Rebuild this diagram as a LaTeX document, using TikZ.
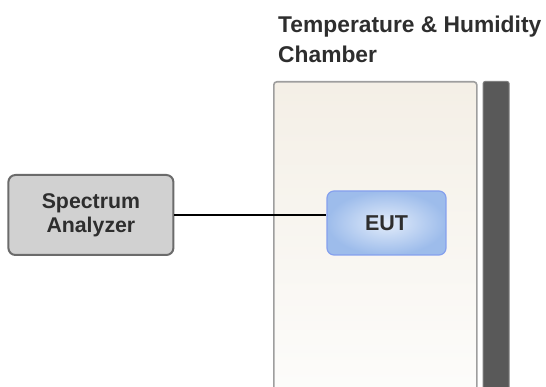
\documentclass[tikz,border=0pt]{standalone}
\usepackage{fontspec}
\setmainfont{Liberation Sans}
\usetikzlibrary{positioning}

\begin{document}
\begin{tikzpicture}[x=1pt, y=1pt]
    \newlength\hgap
    \newlength\wallgap
    \setlength\hgap{152pt}
    \setlength\wallgap{5pt}
    \colorlet{label-grey}{black!82}
    \definecolor{chamber-top}{HTML}{F4EFE6}
    \definecolor{chamber-bottom}{HTML}{FDFDFC}
    \definecolor{eut-inner}{HTML}{E2ECFA}
    \definecolor{eut-outer}{HTML}{9DBCEB}
    \tikzset{
        labeltext/.style={font=\bfseries\fontsize{21.5}{30}\selectfont,
            text=label-grey, align=center},
        chamberbox/.style={draw=black!38, line width=1.6pt, rounded corners=3pt,
            top color=chamber-top, bottom color=chamber-bottom,
            minimum width=203pt, minimum height=330pt, anchor=north west},
        wallbox/.style={draw=black!50, line width=1pt, fill=black!65,
            rounded corners=2pt, minimum width=26pt, minimum height=330pt},
        analyzerbox/.style={draw=black!58, line width=2pt, fill=black!18,
            rounded corners=7pt, minimum width=165pt, minimum height=80pt},
        eutbox/.style={draw=eut-outer!85!blue, line width=1.2pt,
            inner color=eut-inner, outer color=eut-outer,
            rounded corners=7pt, minimum width=119pt, minimum height=64pt},
        cable/.style={draw=black, line width=2.4pt}
    }

    \useasboundingbox (0,0) rectangle (546,-387);

    % CHAMBER AND ITS WALL
    \node [chamberbox] (chamber) at (273,-81) {};
    \node [wallbox, right=\wallgap of chamber.north east, anchor=north west] (wall) {};
    \node [labeltext, font=\bfseries\fontsize{22.8}{30}\selectfont, align=left,
        inner sep=0pt, above right=18pt and 5pt of chamber.north west] (title)
        {Temperature \& Humidity\\Chamber};

    % EUT INSIDE THE CHAMBER
    \node [eutbox, labeltext] (eut) at (386.5,-223) {EUT};

    % SPECTRUM ANALYZER
    \node [analyzerbox, labeltext, font=\bfseries\fontsize{21.3}{24}\selectfont,
        anchor=east, xshift=-\hgap] (analyzer) at (eut.west |- 0,-215)
        {Spectrum\\Analyzer};

    % Cable from analyzer to EUT
    \draw[cable] (analyzer.east) -- (analyzer.east -| eut.west);
\end{tikzpicture}
\end{document}
